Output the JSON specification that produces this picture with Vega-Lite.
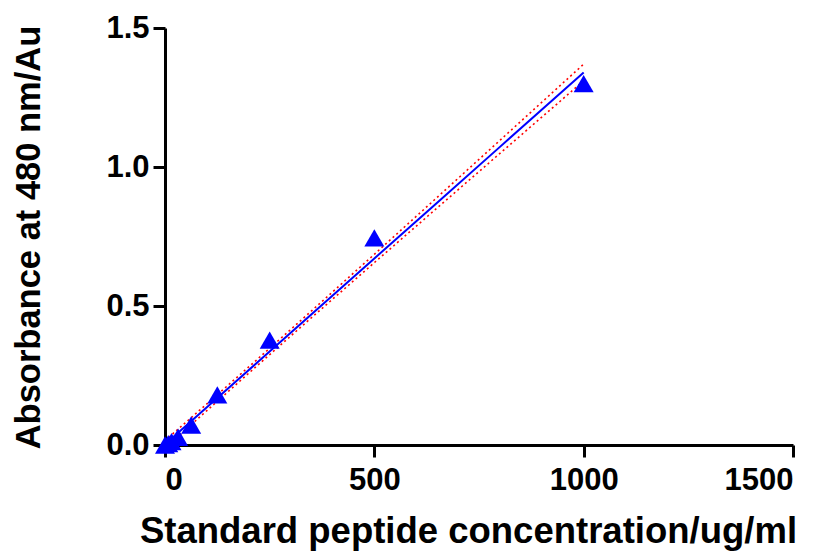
{
  "$schema": "https://vega.github.io/schema/vega-lite/v6.json",
  "width": 628,
  "height": 417,
  "autosize": {"type": "none"},
  "padding": {"left": 165, "top": 28, "right": 34, "bottom": 107},
  "background": "white",
  "config": {
    "view": {"stroke": null},
    "font": "Liberation Sans",
    "axis": {
      "grid": false,
      "domainColor": "black",
      "domainWidth": 3,
      "tickColor": "black",
      "tickWidth": 3,
      "tickSize": 12,
      "labelFont": "Liberation Sans",
      "labelFontWeight": "bold",
      "labelFontSize": 31,
      "labelColor": "black",
      "titleFont": "Liberation Sans",
      "titleFontWeight": "bold",
      "titleFontSize": 35,
      "titleColor": "black"
    }
  },
  "datasets": {
    "points": [
      {"conc": 0, "abs": 0.0},
      {"conc": 7.8, "abs": 0.005},
      {"conc": 15.6, "abs": 0.012},
      {"conc": 31.25, "abs": 0.028},
      {"conc": 62.5, "abs": 0.072},
      {"conc": 125, "abs": 0.18},
      {"conc": 250, "abs": 0.377},
      {"conc": 500, "abs": 0.745},
      {"conc": 1000, "abs": 1.30}
    ],
    "fit": [
      {"conc": 0, "fit": 0.002, "lower": -0.0117, "upper": 0.0157},
      {"conc": 100, "fit": 0.1358, "lower": 0.1238, "upper": 0.1478},
      {"conc": 221, "fit": 0.2977, "lower": 0.2865, "upper": 0.3089},
      {"conc": 350, "fit": 0.4703, "lower": 0.4582, "upper": 0.4824},
      {"conc": 500, "fit": 0.671, "lower": 0.656, "upper": 0.686},
      {"conc": 650, "fit": 0.8717, "lower": 0.8527, "upper": 0.8907},
      {"conc": 800, "fit": 1.0724, "lower": 1.0489, "upper": 1.0959},
      {"conc": 1000, "fit": 1.34, "lower": 1.31, "upper": 1.37}
    ]
  },
  "encoding": {
    "x": {
      "field": "conc",
      "type": "quantitative",
      "scale": {"domain": [0, 1500], "nice": false, "zero": false},
      "axis": {
        "values": [0, 500, 1000, 1500],
        "format": "d",
        "title": "Standard peptide concentration/ug/ml",
        "labelPadding": 8,
        "titleFontSize": 36.5,
        "titleX": 303,
        "titleY": 86,
        "titleAlign": "center",
        "titleBaseline": "middle"
      }
    }
  },
  "layer": [
    {
      "data": {"name": "fit"},
      "mark": {"type": "line", "color": "red", "strokeWidth": 1.6, "strokeDash": [2, 3], "clip": true},
      "encoding": {
        "y": {"field": "upper", "type": "quantitative", "scale": {"domain": [0, 1.5], "nice": false}}
      }
    },
    {
      "data": {"name": "fit"},
      "mark": {"type": "line", "color": "red", "strokeWidth": 1.6, "strokeDash": [2, 3], "clip": true},
      "encoding": {
        "y": {"field": "lower", "type": "quantitative"}
      }
    },
    {
      "data": {"name": "fit"},
      "mark": {"type": "line", "color": "#0000FF", "strokeWidth": 2, "clip": true},
      "encoding": {
        "y": {"field": "fit", "type": "quantitative"}
      }
    },
    {
      "data": {"name": "points"},
      "mark": {"type": "point", "shape": "triangle-up", "filled": true, "color": "#0000FF", "size": 400, "opacity": 1},
      "encoding": {
        "y": {
          "field": "abs",
          "type": "quantitative",
          "axis": {
            "values": [0, 0.5, 1.0, 1.5],
            "format": ".1f",
            "title": "Absorbance at 480 nm/Au",
            "labelPadding": 4,
            "titleFontSize": 34.5,
            "titleX": -136,
            "titleY": 209,
            "titleAlign": "center",
            "titleBaseline": "middle",
            "titleAngle": -90
          }
        }
      }
    }
  ]
}
